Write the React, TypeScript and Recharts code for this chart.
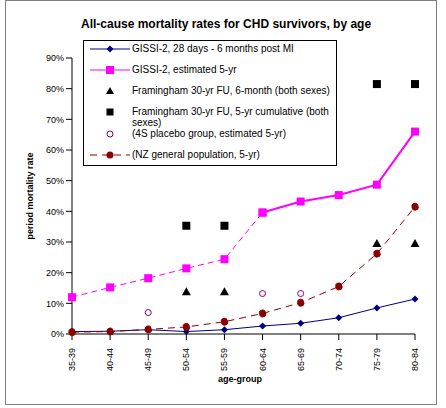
import React from 'react';
import { ComposedChart, Line, XAxis, YAxis } from 'recharts';

const ages = ['35-39', '40-44', '45-49', '50-54', '55-59', '60-64', '65-69', '70-74', '75-79', '80-84'];
const gissi6m = [0.8, 0.9, 1.4, 0.8, 1.4, 2.6, 3.5, 5.3, 8.5, 11.4];
const gissi5yr = [12, 15.2, 18.2, 21.4, 24.4, 39.6, 43.2, 45.3, 48.7, 66];
const fram6m = [null, null, null, 13.8, 13.8, null, null, null, 29.5, 29.5];
const fram5yr = [null, null, null, 35.3, 35.3, null, null, null, 81.5, 81.5];
const placebo4s = [null, null, 7, null, null, 13.2, 13.2, null, null, null];
const nzPop = [0.6, 0.8, 1.5, 2.3, 4, 6.7, 10.2, 15.5, 26.2, 41.5];
const yTicks = [0, 10, 20, 30, 40, 50, 60, 70, 80, 90];

const data = ages.map((age, i) => ({
  age,
  gissi6m: gissi6m[i],
  gissi5yrEst: i <= 5 ? gissi5yr[i] : null,
  gissi5yr: i >= 5 ? gissi5yr[i] : null,
  fram6m: fram6m[i],
  fram5yr: fram5yr[i],
  placebo4s: placebo4s[i],
  nzPop: nzPop[i],
}));

const font = 'Arial, "Liberation Sans", sans-serif';

const Square = (color: string) => (p: any) =>
  p.cx == null || p.value == null ? <g key={p.key} /> : <rect key={p.key} x={p.cx - 4} y={p.cy - 4} width={8} height={8} fill={color} />;
const Tri = (p: any) =>
  p.cx == null || p.value == null ? <g key={p.key} /> : <path key={p.key} d={`M${p.cx},${p.cy - 4.5}L${p.cx + 4.5},${p.cy + 3.5}L${p.cx - 4.5},${p.cy + 3.5}Z`} fill="#000" />;
const Diamond = (p: any) =>
  p.cx == null ? <g key={p.key} /> : <path key={p.key} d={`M${p.cx},${p.cy - 3.5}L${p.cx + 3.5},${p.cy}L${p.cx},${p.cy + 3.5}L${p.cx - 3.5},${p.cy}Z`} fill="#000080" />;

const legendRows = [
  { label: 'GISSI-2, 28 days - 6 months post MI', line: '#000080', dash: '', mk: <path d="M20,-3.5L23.5,0L20,3.5L16.5,0Z" fill="#000080" /> },
  { label: 'GISSI-2, estimated 5-yr', line: '#ff00ff', dash: '', mk: <rect x={16} y={-4} width={8} height={8} fill="#ff00ff" /> },
  { label: 'Framingham 30-yr FU, 6-month (both sexes)', line: '', dash: '', mk: <path d="M20,-4L24,3L16,3Z" fill="#000" /> },
  { label: 'Framingham 30-yr FU, 5-yr cumulative (both sexes)', line: '', dash: '', mk: <rect x={16.5} y={-3.5} width={7} height={7} fill="#000" /> },
  { label: '(4S placebo group, estimated 5-yr)', line: '', dash: '', mk: <circle cx={20} cy={0} r={3} fill="none" stroke="#800080" /> },
  { label: '(NZ general population, 5-yr)', line: '#8b0000', dash: '7 5', mk: <circle cx={20} cy={0} r={3.5} fill="#8b0000" /> },
];

export default function App() {
  return (
    <div style={{ position: 'absolute', left: 0, top: 0, width: 446, height: 408, background: '#fff' }}>
      <div style={{ position: 'absolute', left: 5, top: 0, width: 432, height: 405, border: '1px solid #808080', boxSizing: 'border-box' }} />
      <div style={{ position: 'absolute', left: 81, top: 17, fontFamily: font, fontSize: 12, fontWeight: 'bold' }}>
        All-cause mortality rates for CHD survivors, by age
      </div>
      <div style={{ position: 'absolute', left: 30, top: 196, transform: 'translate(-50%,-50%) rotate(-90deg)', fontFamily: font, fontSize: 9, fontWeight: 'bold', whiteSpace: 'nowrap' }}>
        period mortality rate
      </div>
      <div style={{ position: 'absolute', left: 218, top: 374, fontFamily: font, fontSize: 9, fontWeight: 'bold' }}>age-group</div>
      <ComposedChart width={446} height={408} data={data} margin={{ top: 58, right: 31, left: 0, bottom: 0 }} style={{ position: 'absolute', left: 0, top: 0 }}>
        <XAxis dataKey="age" height={74} interval={0} axisLine={{ stroke: '#808080', strokeWidth: 2 }} tickLine={{ stroke: '#000' }}
          tick={(p: any) => (
            <text x={p.x} y={p.y + 6} transform={`rotate(-90 ${p.x} ${p.y + 6})`} textAnchor="end" dominantBaseline="central" fontFamily={font} fontSize={9} fill="#000">{p.payload.value}</text>
          )} />
        <YAxis width={72} domain={[0, 90]} ticks={yTicks} tickFormatter={(v) => `${v}%`} axisLine={{ stroke: '#000' }} tickLine={{ stroke: '#000' }}
          tick={{ fontFamily: font, fontSize: 9, fill: '#000' }} />
        <Line dataKey="gissi6m" stroke="#000080" strokeWidth={1} dot={Diamond} isAnimationActive={false} />
        <Line dataKey="gissi5yrEst" stroke="#ff00ff" strokeWidth={1} strokeDasharray="6 4" dot={Square('#ff00ff')} isAnimationActive={false} />
        <Line dataKey="gissi5yr" stroke="#ff00ff" strokeWidth={2} dot={Square('#ff00ff')} isAnimationActive={false} />
        <Line dataKey="nzPop" stroke="#8b0000" strokeWidth={1} strokeDasharray="7 5" dot={{ r: 3.5, fill: '#8b0000', stroke: '#8b0000' }} isAnimationActive={false} />
        <Line dataKey="fram6m" stroke="none" dot={Tri} isAnimationActive={false} />
        <Line dataKey="fram5yr" stroke="none" dot={Square('#000')} isAnimationActive={false} />
        <Line dataKey="placebo4s" stroke="none" dot={{ r: 3, fill: '#fff', stroke: '#800080', strokeWidth: 1 }} isAnimationActive={false} />
      </ComposedChart>
      <div style={{ position: 'absolute', left: 83, top: 40, width: 254, height: 126, boxSizing: 'border-box', border: '1px solid #000', background: '#fff', padding: '1px 0', fontFamily: font, fontSize: 10, color: '#000' }}>
        {legendRows.map((r, i) => (
          <div key={i} style={{ display: 'flex', alignItems: 'flex-start', height: i === 3 ? 22 : 21 }}>
            <svg width={48} height={14} style={{ flex: 'none' }}>
              <g transform="translate(6,7)">
                {r.line && <line x1={0} x2={40} y1={0} y2={0} stroke={r.line} strokeDasharray={r.dash} />}
                {r.mk}
              </g>
            </svg>
            <span style={{ paddingTop: 1, lineHeight: '11px', width: 200 }}>{r.label}</span>
          </div>
        ))}
      </div>
    </div>
  );
}
